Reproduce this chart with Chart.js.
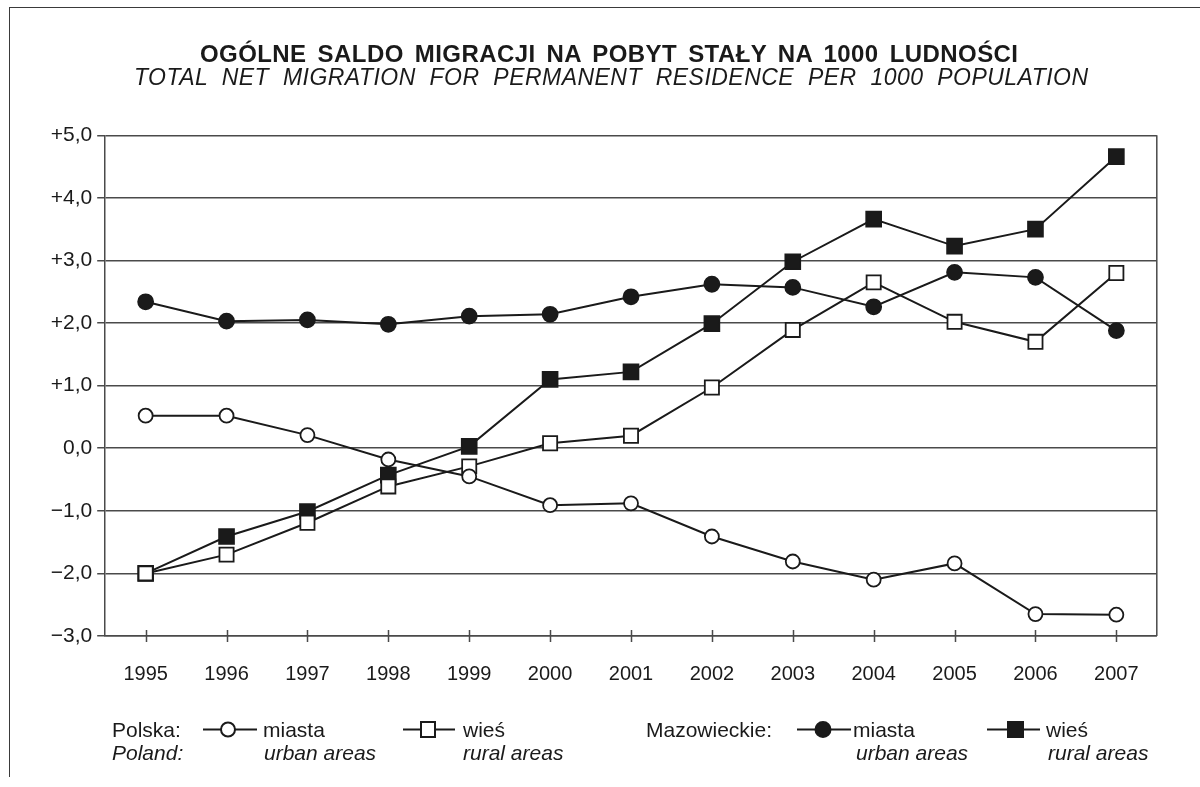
<!DOCTYPE html>
<html>
<head>
<meta charset="utf-8">
<script src="https://cdn.jsdelivr.net/npm/chart.js@4.4.1/dist/chart.umd.min.js"></script>
<style>
  html, body { margin:0; padding:0; background:#fff; }
  body { width:1200px; height:787px; position:relative; overflow:hidden; font-family:"Liberation Sans", Arial, sans-serif; color:#1a1a1a; }
  #frame { position:absolute; left:9px; top:7px; width:1200px; height:769px; border-top:1.5px solid #3a3a3a; border-left:1.5px solid #3a3a3a; }
  canvas { position:absolute; left:0; top:0; }
  .t { position:absolute; white-space:nowrap; }
  #title { font-weight:bold; font-size:24px; line-height:24px; left:200px; top:42.4px; word-spacing:4px; }
  #subtitle { font-style:italic; font-size:23px; line-height:23px; left:134px; top:65.5px; word-spacing:7px; }
  .lg { position:absolute; white-space:nowrap; font-size:21px; line-height:21px; }
  .it { font-style:italic; }
  svg.mk { position:absolute; overflow:visible; }
</style>
</head>
<body>
<div id="frame"></div>
<canvas id="c" width="1200" height="787"></canvas>
<div id="title" class="t">OGÓLNE SALDO MIGRACJI NA POBYT STAŁY NA 1000 LUDNOŚCI</div>
<div id="subtitle" class="t">TOTAL NET MIGRATION FOR PERMANENT RESIDENCE PER 1000 POPULATION</div>

<div class="lg" style="left:112px; top:719px;">Polska:</div>
<div class="lg it" style="left:112px; top:742px;">Poland:</div>
<svg class="mk" style="left:0;top:0" width="1200" height="787">
  <g stroke="#1a1a1a" stroke-width="2">
    <line x1="203" y1="729.5" x2="257" y2="729.5"/>
    <circle cx="228" cy="729.5" r="7" fill="#fff"/>
    <line x1="403" y1="729.5" x2="455" y2="729.5"/>
    <rect x="421" y="722" width="14" height="15" fill="#fff"/>
    <line x1="797" y1="729.5" x2="851" y2="729.5"/>
    <circle cx="823" cy="729.5" r="7.5" fill="#1a1a1a"/>
    <line x1="987" y1="729.5" x2="1040" y2="729.5"/>
    <rect x="1008" y="722" width="15" height="15" fill="#1a1a1a"/>
  </g>
</svg>
<div class="lg" style="left:263px; top:719px;">miasta</div>
<div class="lg it" style="left:264px; top:742px;">urban areas</div>
<div class="lg" style="left:463px; top:719px;">wieś</div>
<div class="lg it" style="left:463px; top:742px;">rural areas</div>
<div class="lg" style="left:646px; top:719px;">Mazowieckie:</div>
<div class="lg" style="left:853px; top:719px;">miasta</div>
<div class="lg it" style="left:856px; top:742px;">urban areas</div>
<div class="lg" style="left:1046px; top:719px;">wieś</div>
<div class="lg it" style="left:1048px; top:742px;">rural areas</div>

<script>
// ---- data ----
const years = ['1995','1996','1997','1998','1999','2000','2001','2002','2003','2004','2005','2006','2007'];
const polskaMiasta = [0.52, 0.52, 0.21, -0.18, -0.45, -0.91, -0.88, -1.41, -1.81, -2.10, -1.84, -2.65, -2.66];
const polskaWies = [-2.00, -1.70, -1.19, -0.61, -0.29, 0.08, 0.20, 0.97, 1.89, 2.65, 2.02, 1.70, 2.80];
const mazowMiasta = [2.34, 2.03, 2.05, 1.98, 2.11, 2.14, 2.42, 2.62, 2.57, 2.26, 2.81, 2.73, 1.88];
const mazowWies = [-2.00, -1.41, -1.01, -0.43, 0.03, 1.10, 1.22, 1.99, 2.98, 3.66, 3.23, 3.50, 4.66];
const yTickLabels = ['\u22123,0','\u22122,0','\u22121,0','0,0','+1,0','+2,0','+3,0','+4,0','+5,0'];

// fit title widths
function fit(id, target) {
  const el = document.getElementById(id);
  const n = el.textContent.length;
  const w = el.getBoundingClientRect().width;
  el.style.letterSpacing = ((target - w) / (n - 1)) + 'px';
}
fit('title', 818);
fit('subtitle', 954);

const INK = '#1a1a1a';
const GRID = '#4a4a4a';
const FONT = '"Liberation Sans", Arial, sans-serif';

const framePlugin = {
  id: 'framePlugin',
  beforeDatasetsDraw(chart) {
    const {ctx, chartArea: a, scales: {x}} = chart;
    ctx.save();
    ctx.strokeStyle = GRID;
    ctx.lineWidth = 1.5;
    ctx.beginPath();
    ctx.moveTo(a.right, a.top);
    ctx.lineTo(a.right, a.bottom);
    x.ticks.forEach((t, i) => {
      const px = Math.round(x.getPixelForTick(i)) + 0.5;
      ctx.moveTo(px, a.bottom - 6);
      ctx.lineTo(px, a.bottom + 6);
    });
    ctx.stroke();
    ctx.restore();
  }
};

function ds(label, data, style, fill, radius) {
  return {
    label, data,
    borderColor: INK, borderWidth: 2,
    pointStyle: style, pointRadius: radius, pointHoverRadius: radius,
    pointBackgroundColor: fill, pointBorderColor: INK, pointBorderWidth: 1.8,
    tension: 0, fill: false
  };
}

new Chart(document.getElementById('c'), {
  type: 'line',
  data: {
    labels: years,
    datasets: [
      ds('Polska miasta', polskaMiasta, 'circle', '#ffffff', 7),
      ds('Polska wieś', polskaWies, 'rect', '#ffffff', 10),
      ds('Mazowieckie miasta', mazowMiasta, 'circle', INK, 7.5),
      ds('Mazowieckie wieś', mazowWies, 'rect', INK, 10.5)
    ]
  },
  options: {
    responsive: false,
    animation: false,
    devicePixelRatio: 1,
    layout: { padding: { left: 0, right: 43.2, top: 135.3, bottom: 0 } },
    plugins: { legend: { display: false }, title: { display: false }, tooltip: { enabled: false } },
    scales: {
      x: {
        type: 'category',
        offset: true,
        grid: { display: false },
        border: { display: true, color: GRID, width: 1.5 },
        ticks: { color: INK, font: { family: FONT, size: 20 }, padding: 18, maxRotation: 0, autoSkip: false },
        afterFit(s) { s.height = 787 - 636; }
      },
      y: {
        min: -3, max: 5,
        ticks: {
          stepSize: 1, color: INK, padding: 5,
          font: { family: FONT, size: 21 },
          callback: (v, i) => yTickLabels[i]
        },
        grid: { color: GRID, lineWidth: 1.5, tickLength: 8, drawTicks: true },
        border: { display: true, color: GRID, width: 1.5 },
        afterFit(s) { s.width = 105.2; }
      }
    }
  },
  plugins: [framePlugin]
});
</script>
</body>
</html>
